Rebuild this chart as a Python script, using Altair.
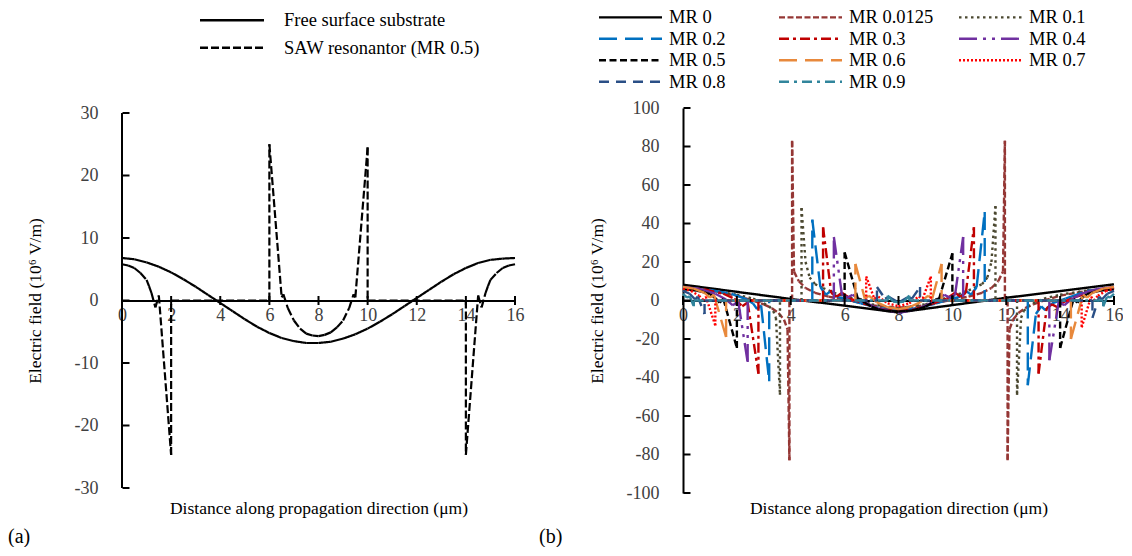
import math
import altair as alt
import pandas as pd

FONT = "Liberation Serif"

# ---------------- panel (a) data ----------------
free_x = [0, 0.5, 1, 1.5, 2, 2.5, 3, 3.5, 4, 4.5, 5, 5.5, 6, 6.5, 7, 7.5, 8, 8.5, 9, 9.5,
          10, 10.5, 11, 11.5, 12, 12.5, 13, 13.5, 14, 14.5, 15, 15.5, 16]
free_y = [6.8, 6.6, 6.1, 5.4, 4.5, 3.4, 2.2, 0.9, -0.4, -1.7, -3.0, -4.2, -5.2, -6.0, -6.5, -6.8, -6.8,
          -6.6, -6.1, -5.4, -4.5, -3.4, -2.2, -0.9, 0.4, 1.7, 3.0, 4.2, 5.2, 6.0, 6.5, 6.7, 6.8]

saw_x = [0, 0.25, 0.5, 0.75, 1.0, 1.1, 1.2, 1.36, 1.5, 2.0, 2.0, 6.0, 6.0, 6.5, 6.57, 6.75, 7.0, 7.25,
         7.5, 7.75, 8.0, 8.25, 8.5, 8.75, 9.0, 9.25, 9.43, 9.5, 10.0, 10.0, 14.0, 14.0, 14.5, 14.64,
         14.8, 14.9, 15.0, 15.25, 15.5, 15.75, 16]
saw_y = [5.8, 5.6, 5.2, 4.4, 3.3, 2.3, 1.2, -1.1, 0.8, -24.7, 0, 0, 25.0, 0.5, 1.0, -1.2, -3.2, -4.5,
         -5.3, -5.6, -5.7, -5.5, -5.1, -4.3, -3.2, -1.2, 1.0, 0.5, 24.5, 0, 0, -24.7, 0.8, -1.1,
         1.2, 2.3, 3.3, 4.4, 5.2, 5.6, 5.8]

a_names = ["Free surface substrate", "SAW resonantor (MR 0.5)"]
a_colors = ["#000000", "#000000"]
a_dashes = [[1, 0], [8, 3]]

# ---------------- panel (b) data ----------------
mr0_x = [0, 4, 8, 12, 16]
mr0_y = [8.2, 0.8, -6.2, 1.4, 8.4]

mr00125_x = [0, 1, 2, 2.6, 3.0, 3.3, 3.55, 3.75, 3.88, 3.95, 3.95, 4.05, 4.05, 4.12, 4.3, 4.55, 4.9,
             5.4, 6, 7, 8, 9, 10, 10.6, 11.1, 11.45, 11.7, 11.88, 11.95, 11.95, 12.05, 12.05, 12.12,
             12.25, 12.45, 12.7, 13.0, 13.4, 14, 15, 16]
mr00125_y = [6.5, 5.0, 2.5, 0, -2, -4, -6.5, -10, -15, -83, 0, 0, 83, 15, 10, 6.5, 4,
             2, 0.5, -2.5, -3.8, -2.5, 0.5, 2, 4, 6.5, 10, 15, 83, 0, 0, -83, -15,
             -10, -6.5, -4, -2, 0, 2.5, 5, 6.5]

mr01_x = [0, 1, 2, 2.6, 3.0, 3.2, 3.35, 3.45, 3.6, 3.6, 4.4, 4.4, 4.55, 4.7, 4.9, 5.2, 5.6, 6.2, 7, 8,
          9, 9.8, 10.4, 10.8, 11.1, 11.3, 11.45, 11.6, 11.6, 12.4, 12.4, 12.55, 12.65, 12.8, 13.0,
          13.4, 14, 15, 16]
mr01_y = [6.2, 5.2, 3.0, 1.0, -1.5, -3, -5.5, -9, -49, 0, 0, 48, 20, 12, 8.5, 6.5, 4, 1.5, -2, -4,
          -2, 1.5, 4, 6.5, 8.5, 12, 20, 49, 0, 0, -49, -9, -5.5, -3, -1.5,
          1.0, 3.0, 5.2, 6.2]

mr02_x = [0, 1, 1.8, 2.3, 2.6, 2.75, 2.9, 3.2, 3.2, 4.8, 4.8, 5.1, 5.3, 5.5, 5.7, 6.0, 6.6, 7.3, 8,
          8.7, 9.4, 10.0, 10.3, 10.5, 10.7, 10.9, 11.2, 11.2, 12.8, 12.8, 13.1, 13.3, 13.45, 13.7,
          14.2, 15, 16]
mr02_y = [6.6, 5.5, 3.5, 1.0, -1.5, -4.5, -2.5, -42, 0, 0, 42, 7, 3, 5, 2, 1, -1.5, -4, -5,
          -4, -1.5, 1, 2, 5, 3, 7, 46, 0, 0, -44, -7, -3, -5, -1.5,
          1, 5, 6.6]

mr03_x = [0, 0.8, 1.5, 1.9, 2.2, 2.4, 2.8, 2.8, 5.2, 5.2, 5.5, 5.7, 5.9, 6.2, 6.8, 7.4, 8, 8.6, 9.2,
          9.8, 10.1, 10.3, 10.5, 10.8, 10.8, 13.2, 13.2, 13.5, 13.7, 13.9, 14.1, 14.5, 15.2, 16]
mr03_y = [6.8, 5.8, 3.5, 1.0, -3, -1, -38, 0, 0, 38, 4, 2, 4, 1, -2, -4.5, -5.5, -4.5, -2,
          1, 4, 2, 4, 38, 0, 0, -38, -4, -2, -3.5, -1, 1.5, 4.5, 6.8]

mr04_x = [0, 0.6, 1.2, 1.6, 1.85, 2.05, 2.4, 2.4, 5.6, 5.6, 5.9, 6.1, 6.3, 6.6, 7.2, 8, 8.8, 9.4,
          9.7, 9.9, 10.1, 10.4, 10.4, 13.6, 13.6, 13.95, 14.15, 14.4, 14.8, 15.4, 16]
mr04_y = [7, 6, 3.5, 0.5, -2.5, -0.5, -32, 0, 0, 33, 3, 1.5, 3, 0, -4, -6.5, -4, 0,
          3, 1.5, 3, 33, 0, 0, -31, -0.5, -2.5, 0.5, 3.5, 6, 7]

mr06_x = [0, 0.4, 0.8, 1.0, 1.15, 1.6, 1.6, 6.4, 6.4, 6.75, 6.9, 7.2, 7.6, 8, 8.4, 8.8, 9.1, 9.25,
          9.6, 9.6, 14.4, 14.4, 14.85, 15.0, 15.2, 15.6, 16]
mr06_y = [7, 6.2, 4, 1.5, 3, -19, 0, 0, 19, 1, 2.5, -1, -3.5, -4.5, -3.5, -1, 2.5, 1,
          19, 0, 0, -20, 3, 1.5, 4, 6.2, 7]

mr07_x = [0, 0.3, 0.6, 0.75, 0.85, 1.2, 1.2, 6.8, 6.8, 7.1, 7.25, 7.6, 8, 8.4, 8.75, 8.9, 9.2, 9.2,
          14.8, 14.8, 15.15, 15.25, 15.4, 15.7, 16]
mr07_y = [6, 5, 2.5, 0, 2, -13, 0, 0, 12.5, 1, 2, -1.5, -3, -1.5, 2, 1, 12.5, 0,
          0, -14, 2, 0, 2.5, 5, 6]

mr08_x = [0, 0.25, 0.45, 0.55, 0.8, 0.8, 7.2, 7.2, 7.5, 7.65, 8, 8.35, 8.5, 8.8, 8.8, 15.2, 15.2,
          15.45, 15.55, 15.75, 16]
mr08_y = [5, 3.5, 0.5, 2, -7, 0, 0, 7, 1, 1.8, -1, 1.8, 1, 7, 0, 0, -9,
          2, 0.5, 3.5, 5]

mr09_x = [0, 0.15, 0.25, 0.4, 0.4, 7.6, 7.6, 7.8, 8, 8.2, 8.4, 8.4, 15.6, 15.6, 15.75, 15.85, 16]
mr09_y = [3.5, 1.5, 2.2, -3, 0, 0, 2.5, -0.5, -1, -0.5, 2.5, 0, 0, -3, 2.2, 1.5, 3.5]

b_names = ["MR 0", "MR 0.0125", "MR 0.1", "MR 0.2", "MR 0.3", "MR 0.4",
           "MR 0.5", "MR 0.6", "MR 0.7", "MR 0.8", "MR 0.9"]
b_colors = ["#000000", "#953735", "#4b4830", "#0070C0", "#C00000", "#7030A0",
            "#000000", "#E8893C", "#FF0000", "#2A4F86", "#31859C"]
b_dashes = [[1, 0], [6, 2.5], [2.5, 3.5], [18, 8], [10, 4, 3, 4], [18, 6, 3, 6, 3, 6],
            [7, 3.5], [18, 8], [2, 2], [10, 7], [10, 5, 3, 5]]
# legend grid is filled column by column (4 rows), so this order reads row by row
b_legend_order = ["MR 0", "MR 0.2", "MR 0.5", "MR 0.8",
                  "MR 0.0125", "MR 0.3", "MR 0.6", "MR 0.9",
                  "MR 0.1", "MR 0.4", "MR 0.7"]

x_ticks = [0, 2, 4, 6, 8, 10, 12, 14, 16]
ya_ticks = [-30, -20, -10, 0, 10, 20, 30]
yb_ticks = [-100, -80, -60, -40, -20, 0, 20, 40, 60, 80, 100]

X_TITLE = "Distance along propagation direction (μm)"
Y_TITLE = "Electric field (10⁶ V/m)"


def segments(name, xs, ys):
    if len(xs) != len(ys):
        raise ValueError(f"{name}: {len(xs)} x vs {len(ys)} y")
    return [{"series": name, "x": xs[i], "y": ys[i], "x2": xs[i + 1], "y2": ys[i + 1]}
            for i in range(len(xs) - 1)]


df_a = pd.DataFrame(segments(a_names[0], free_x, free_y) + segments(a_names[1], saw_x, saw_y))

b_series = [(mr0_x, mr0_y), (mr00125_x, mr00125_y), (mr01_x, mr01_y), (mr02_x, mr02_y),
            (mr03_x, mr03_y), (mr04_x, mr04_y), (saw_x, saw_y), (mr06_x, mr06_y),
            (mr07_x, mr07_y), (mr08_x, mr08_y), (mr09_x, mr09_y)]
rows_b = []
for nm, (xs, ys) in zip(b_names, b_series):
    rows_b += segments(nm, xs, ys)
df_b = pd.DataFrame(rows_b)

b_col = dict(zip(b_names, b_colors))
b_dsh = dict(zip(b_names, b_dashes))
b_leg_colors = [b_col[n] for n in b_legend_order]
b_leg_dashes = [b_dsh[n] for n in b_legend_order]

W1 = 393
W2 = 431
H = 385  # both plot areas; panel (a) shows ±30 inside a slightly padded domain

LBL = 18
TTL = 17.5


def legend(x, y, label_x, rowpad, cols, colpad, sym_len, fs=18.5, sw=2.3):
    entry = max(math.ceil(sym_len / 5.0 + sw), fs)
    sym_off = sym_len / 2.0 - entry / 2.0
    return alt.Legend(title=None, orient="none", legendX=x, legendY=y, padding=0,
                      symbolType="M-5,0H5", symbolSize=(sym_len / 5.0) ** 2, symbolStrokeWidth=sw,
                      symbolOffset=sym_off, labelOffset=label_x - entry - sym_off,
                      labelFont=FONT, labelFontSize=fs, labelColor="black", labelLimit=0,
                      rowPadding=rowpad, columns=cols, columnPadding=colpad, gridAlign="all")


def panel(df, names, colors, dashes, W, ydom, yticks, leg, extra_layers, ytitle_x, xtitle_y,
          draw_domain, sw):
    xs = alt.Scale(domain=[0, 16], nice=False, zero=False)
    ys = alt.Scale(domain=ydom, nice=False, zero=False)
    xaxis = alt.Axis(values=x_ticks, offset=-H / 2, ticks=False, tickSize=0, grid=False,
                     domainColor="black", domainWidth=2, labelPadding=6, labelFont=FONT,
                     labelFontSize=LBL, labelColor="#404040", labelFlush=False, labelOverlap=False,
                     labelExpr="'' + datum.value",
                     title=X_TITLE, titleFont=FONT, titleFontSize=TTL, titleFontWeight="normal",
                     titleColor="black", titleX=W / 2, titleY=xtitle_y, titleAlign="center",
                     titleBaseline="middle")
    yaxis = alt.Axis(values=yticks, ticks=False, tickSize=0, grid=False, domain=not draw_domain,
                     domainColor="black", domainWidth=2, labelPadding=24, labelFont=FONT,
                     labelFontSize=LBL, labelColor="#404040", labelFlush=False, labelOverlap=False,
                     labelExpr="'' + datum.value",
                     title=Y_TITLE, titleFont=FONT, titleFontSize=TTL, titleFontWeight="normal",
                     titleColor="black", titleX=ytitle_x, titleY=H / 2, titleAngle=270,
                     titleAlign="center", titleBaseline="middle")
    lines = alt.Chart(df).mark_rule(strokeWidth=sw, strokeCap="butt").encode(
        x=alt.X("x:Q", scale=xs, axis=xaxis, title=X_TITLE),
        y=alt.Y("y:Q", scale=ys, axis=yaxis, title=Y_TITLE),
        x2="x2:Q",
        y2="y2:Q",
        color=alt.Color("series:N", scale=alt.Scale(domain=names, range=colors), legend=leg),
        strokeDash=alt.StrokeDash("series:N", scale=alt.Scale(domain=names, range=dashes), legend=leg),
    )
    xt = alt.Chart(pd.DataFrame({"v": x_ticks, "z": [0] * len(x_ticks)})).mark_tick(
        orient="vertical", size=9, thickness=2, color="black", opacity=1).encode(
        x=alt.X("v:Q", scale=xs, axis=xaxis, title=X_TITLE),
        y=alt.Y("z:Q", scale=ys, axis=yaxis, title=Y_TITLE))
    yt = alt.Chart(pd.DataFrame({"v": yticks})).mark_tick(
        orient="horizontal", size=7, thickness=2, color="black", opacity=1).encode(
        y=alt.Y("v:Q", scale=ys, axis=yaxis, title=Y_TITLE), x=alt.value(4))
    layers = [lines, xt, yt]
    if draw_domain:
        dom = alt.Chart(pd.DataFrame({"lo": [yticks[0]], "hi": [yticks[-1]]})).mark_rule(
            strokeWidth=2, color="black").encode(
            x=alt.value(0), y=alt.Y("lo:Q", scale=ys, axis=yaxis, title=Y_TITLE), y2="hi:Q")
        layers.append(dom)
    return alt.layer(*layers, *extra_layers).properties(width=W, height=H)


leg_a = legend(78, -97, 84, 8.5, 1, 0, 64)
leg_b = legend(-84, -100, 70, 2.5, 3, 20, 63)

lab_a = alt.Chart(pd.DataFrame({"t": ["(a)"]})).mark_text(
    font=FONT, fontSize=20, align="left", baseline="middle", color="black").encode(
    text="t:N", x=alt.value(-114), y=alt.value(429))
lab_b = alt.Chart(pd.DataFrame({"t": ["(b)"]})).mark_text(
    font=FONT, fontSize=20, align="left", baseline="middle", color="black").encode(
    text="t:N", x=alt.value(-144), y=alt.value(429))

left = panel(df_a, a_names, a_colors, a_dashes, W1, [-30.8, 30.8], ya_ticks, leg_a,
             [lab_a], -87, 207.5, True, 2.2)
right = panel(df_b, b_legend_order, b_leg_colors, b_leg_dashes, W2, [-100, 100], yb_ticks, leg_b,
              [lab_b], -86, 207.5, False, 2.4)

chart = alt.hconcat(left, right, spacing=15).resolve_scale(
    color="independent", strokeDash="independent", x="independent", y="independent"
).resolve_legend(color="independent", strokeDash="independent").properties(
    padding=0, background="white"
).configure(font=FONT).configure_axis(labelOverlap=False, labelFont=FONT, titleFont=FONT
).configure_view(stroke=None)

chart.save("out.html", embed_options={"renderer": "svg", "actions": False})
